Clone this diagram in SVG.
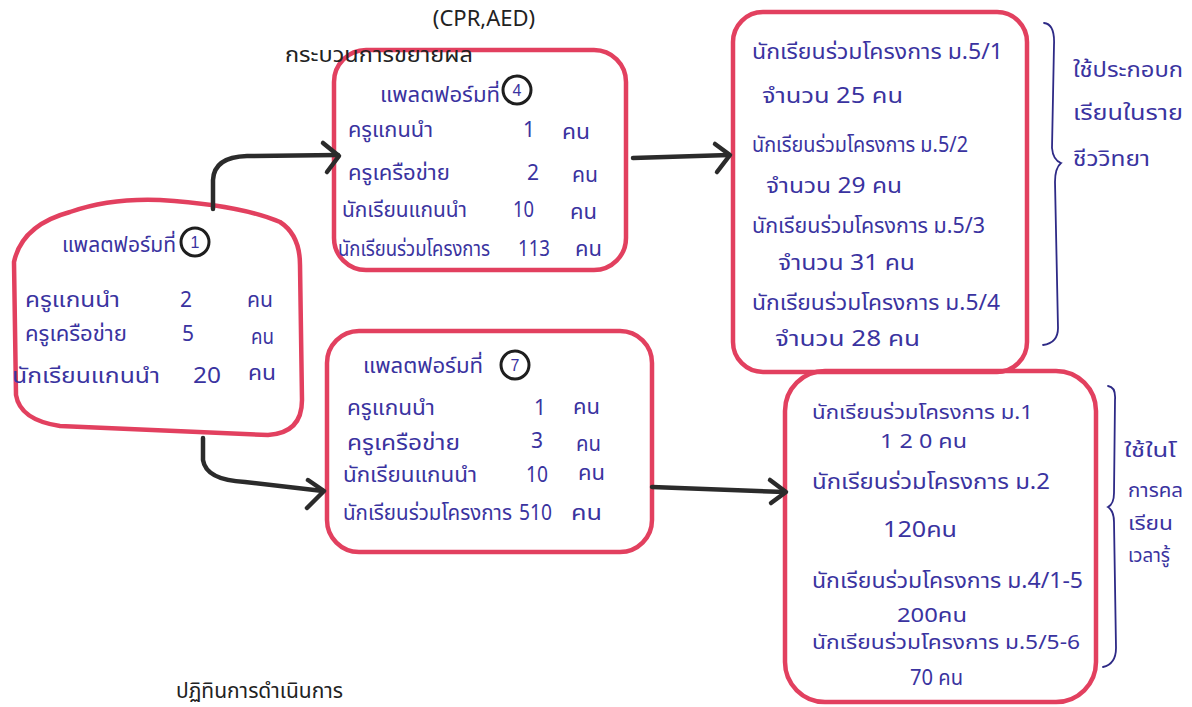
<svg xmlns="http://www.w3.org/2000/svg" width="1192" height="707" viewBox="0 0 1192 707">
<defs>
<style>
.box{fill:none;stroke:#e2405f;stroke-width:4.5;stroke-linejoin:round}
.con{fill:none;stroke:#2b2b2b;stroke-width:4.5;stroke-linecap:round;stroke-linejoin:round}
.brace{fill:none;stroke:#2e2a86;stroke-width:1.8;stroke-linecap:round}
.hw{font-family:"Noto Sans Thai","Noto Sans Thai Looped","Noto Sans","DejaVu Sans",sans-serif;font-size:21px;fill:#3a33a0}
.sm{font-size:19px}
.pr{font-family:"Noto Sans Thai","Noto Sans","Liberation Sans",sans-serif;font-size:22px;fill:#222}
.num{fill:none;stroke:#1e1e1e;stroke-width:3}
.nt{font-family:"Liberation Sans",sans-serif;font-size:16px;fill:#3a33a0;text-anchor:middle}
</style>
</defs>
<rect width="1192" height="707" fill="#fff"/>

<g id="node-platform1">
<path class="box" d="M14,262 Q22,225 70,212 Q110,198 160,200 Q240,205 280,222 Q300,235 300,265 L302,400 Q302,433 268,435 L60,426 Q20,420 16,395 Z"/>
<text class="hw" x="62" y="252" textLength="114" lengthAdjust="spacingAndGlyphs">แพลตฟอร์มที่</text>
<circle class="num" cx="195" cy="242" r="14"/>
<text class="nt" x="195" y="248">1</text>
<text class="hw" x="25" y="307" textLength="95" lengthAdjust="spacingAndGlyphs">ครูแกนนำ</text>
<text class="hw" x="180" y="307">2</text>
<text class="hw" x="247" y="307" textLength="26" lengthAdjust="spacingAndGlyphs">คน</text>
<text class="hw" x="25" y="341" textLength="102" lengthAdjust="spacingAndGlyphs">ครูเครือข่าย</text>
<text class="hw" x="182" y="341">5</text>
<text class="hw" x="251" y="344" textLength="23" lengthAdjust="spacingAndGlyphs">คน</text>
<text class="hw" x="12" y="383" textLength="148" lengthAdjust="spacingAndGlyphs">นักเรียนแกนนำ</text>
<text class="hw" x="193" y="383" textLength="28" lengthAdjust="spacingAndGlyphs">20</text>
<text class="hw" x="248" y="380" textLength="28" lengthAdjust="spacingAndGlyphs">คน</text>
</g>

<g id="node-platform4">
<rect class="box" x="334" y="50" width="292" height="220" rx="32"/>
<text class="hw" x="380" y="102" textLength="120" lengthAdjust="spacingAndGlyphs">แพลตฟอร์มที่</text>
<circle class="num" cx="517" cy="90" r="14"/>
<text class="nt" x="517" y="96">4</text>
<text class="hw" x="348" y="137" textLength="85" lengthAdjust="spacingAndGlyphs">ครูแกนนำ</text>
<text class="hw" x="523" y="137">1</text>
<text class="hw" x="562" y="139" textLength="28" lengthAdjust="spacingAndGlyphs">คน</text>
<text class="hw" x="348" y="180" textLength="102" lengthAdjust="spacingAndGlyphs">ครูเครือข่าย</text>
<text class="hw" x="527" y="180">2</text>
<text class="hw" x="572" y="182" textLength="26" lengthAdjust="spacingAndGlyphs">คน</text>
<text class="hw" x="342" y="217" textLength="125" lengthAdjust="spacingAndGlyphs">นักเรียนแกนนำ</text>
<text class="hw" x="513" y="217" textLength="21" lengthAdjust="spacingAndGlyphs">10</text>
<text class="hw" x="570" y="219" textLength="27" lengthAdjust="spacingAndGlyphs">คน</text>
<text class="hw" x="338" y="256" textLength="152" lengthAdjust="spacingAndGlyphs">นักเรียนร่วมโครงการ</text>
<text class="hw" x="518" y="256" textLength="32" lengthAdjust="spacingAndGlyphs">113</text>
<text class="hw" x="575" y="256" textLength="27" lengthAdjust="spacingAndGlyphs">คน</text>
</g>

<g id="node-platform7">
<rect class="box" x="327" y="331" width="325" height="221" rx="32"/>
<text class="hw" x="363" y="373" textLength="120" lengthAdjust="spacingAndGlyphs">แพลตฟอร์มที่</text>
<circle class="num" cx="515" cy="365" r="14"/>
<text class="nt" x="515" y="371">7</text>
<text class="hw" x="347" y="415" textLength="88" lengthAdjust="spacingAndGlyphs">ครูแกนนำ</text>
<text class="hw" x="534" y="415">1</text>
<text class="hw" x="573" y="414" textLength="27" lengthAdjust="spacingAndGlyphs">คน</text>
<text class="hw" x="347" y="450" textLength="113" lengthAdjust="spacingAndGlyphs">ครูเครือข่าย</text>
<text class="hw" x="531" y="448">3</text>
<text class="hw" x="576" y="451" textLength="25" lengthAdjust="spacingAndGlyphs">คน</text>
<text class="hw" x="343" y="482" textLength="134" lengthAdjust="spacingAndGlyphs">นักเรียนแกนนำ</text>
<text class="hw" x="526" y="482" textLength="22" lengthAdjust="spacingAndGlyphs">10</text>
<text class="hw" x="578" y="480" textLength="27" lengthAdjust="spacingAndGlyphs">คน</text>
<text class="hw" x="343" y="520" textLength="169" lengthAdjust="spacingAndGlyphs">นักเรียนร่วมโครงการ</text>
<text class="hw" x="519" y="520" textLength="33" lengthAdjust="spacingAndGlyphs">510</text>
<text class="hw" x="571" y="520" textLength="31" lengthAdjust="spacingAndGlyphs">คน</text>
</g>

<g id="node-m5">
<rect class="box" x="733" y="12" width="294" height="360" rx="30"/>
<text class="hw" x="752" y="59" textLength="251" lengthAdjust="spacingAndGlyphs">นักเรียนร่วมโครงการ  ม.5/1</text>
<text class="hw" x="762" y="103" textLength="141" lengthAdjust="spacingAndGlyphs">จำนวน  25  คน</text>
<text class="hw" x="752" y="152" textLength="216" lengthAdjust="spacingAndGlyphs">นักเรียนร่วมโครงการ ม.5/2</text>
<text class="hw" x="766" y="193" textLength="136" lengthAdjust="spacingAndGlyphs">จำนวน 29  คน</text>
<text class="hw" x="752" y="233" textLength="233" lengthAdjust="spacingAndGlyphs">นักเรียนร่วมโครงการ  ม.5/3</text>
<text class="hw" x="778" y="270" textLength="137" lengthAdjust="spacingAndGlyphs">จำนวน  31  คน</text>
<text class="hw" x="752" y="310" textLength="248" lengthAdjust="spacingAndGlyphs">นักเรียนร่วมโครงการ  ม.5/4</text>
<text class="hw" x="775" y="346" textLength="145" lengthAdjust="spacingAndGlyphs">จำนวน   28  คน</text>
</g>

<g id="node-m1-m5">
<rect class="box" x="785" y="371" width="311" height="331" rx="40"/>
<text class="hw sm" x="812" y="419" textLength="221" lengthAdjust="spacingAndGlyphs">นักเรียนร่วมโครงการ ม.1</text>
<text class="hw sm" x="880" y="448" textLength="87" lengthAdjust="spacingAndGlyphs">1 2 0  คน</text>
<text class="hw" x="812" y="489" textLength="238" lengthAdjust="spacingAndGlyphs">นักเรียนร่วมโครงการ  ม.2</text>
<text class="hw" x="883" y="537" textLength="74" lengthAdjust="spacingAndGlyphs">120คน</text>
<text class="hw" x="812" y="588" textLength="271" lengthAdjust="spacingAndGlyphs">นักเรียนร่วมโครงการ  ม.4/1-5</text>
<text class="hw sm" x="897" y="622" textLength="70" lengthAdjust="spacingAndGlyphs">200คน</text>
<text class="hw sm" x="812" y="649" textLength="268" lengthAdjust="spacingAndGlyphs">นักเรียนร่วมโครงการ  ม.5/5-6</text>
<text class="hw" x="910" y="685" textLength="53" lengthAdjust="spacingAndGlyphs">70 คน</text>
</g>

<g id="note-top">
<path class="brace" d="M1044,23 Q1055,24 1054,45 L1052,148 Q1053,160 1061,163 Q1055,168 1055,182 L1058,328 Q1058,343 1043,345"/>
<text class="hw" x="1073" y="77" textLength="110" lengthAdjust="spacingAndGlyphs">ใช้ประกอบก</text>
<text class="hw" x="1073" y="120" textLength="110" lengthAdjust="spacingAndGlyphs">เรียนในราย</text>
<text class="hw" x="1073" y="166" textLength="77" lengthAdjust="spacingAndGlyphs">ชีววิทยา</text>
</g>

<g id="note-bottom">
<path class="brace" d="M1108,386 Q1116,387 1115,400 L1114,493 Q1114,504 1108,507 Q1114,511 1114,522 L1116,648 Q1116,664 1103,667"/>
<text class="hw sm" x="1124" y="457" textLength="52" lengthAdjust="spacingAndGlyphs">ใช้ในโ</text>
<text class="hw sm" x="1128" y="497" textLength="55" lengthAdjust="spacingAndGlyphs">การคล</text>
<text class="hw sm" x="1128" y="530" textLength="45" lengthAdjust="spacingAndGlyphs">เรียน</text>
<text class="hw sm" x="1128" y="562" textLength="42" lengthAdjust="spacingAndGlyphs">เวลารู้</text>
</g>

<g id="connectors">
<path class="con" d="M213,209 L213,180 Q214,157 247,156 L338,155"/>
<path class="con" d="M323,143 L339,156 L327,172"/>
<path class="con" d="M203,438 L203,460 Q206,480 245,482 L323,491"/>
<path class="con" d="M308,480 L324,491 L307,508"/>
<path class="con" d="M633,158 L729,155"/>
<path class="con" d="M715,144 L730,155 L717,172"/>
<path class="con" d="M652,487 L785,492"/>
<path class="con" d="M770,480 L786,492 L771,503"/>
</g>

<g id="labels">
<text class="pr" x="484" y="26" text-anchor="middle" font-family="Liberation Sans, sans-serif" font-size="20">(CPR,AED)</text>
<text class="pr" x="285" y="62" textLength="188" lengthAdjust="spacingAndGlyphs">กระบวนการขยายผล</text>
<text class="pr" x="176" y="698" textLength="167" lengthAdjust="spacingAndGlyphs">ปฏิทินการดำเนินการ</text>
</g>
</svg>
